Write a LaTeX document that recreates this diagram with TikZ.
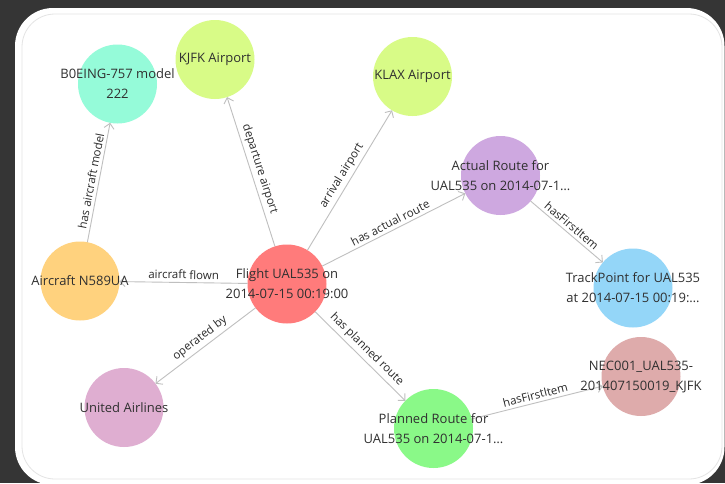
\documentclass[tikz,border=0pt]{standalone}
\usepackage{fontspec}
\setmainfont{Open Sans}
\usetikzlibrary{arrows.meta}

\definecolor{backdrop}{HTML}{353535}
\definecolor{panelline}{HTML}{E4E4E4}
\definecolor{linkgray}{HTML}{BFBFBF}
\definecolor{nodeink}{HTML}{303030}
\definecolor{labelink}{HTML}{2A2A2A}
\definecolor{cTeal}{HTML}{95FBD9}
\definecolor{cLime}{HTML}{D8FB87}
\definecolor{cLilac}{HTML}{CEA8E0}
\definecolor{cSky}{HTML}{94D6F8}
\definecolor{cRed}{HTML}{FF7B7B}
\definecolor{cAmber}{HTML}{FFD27E}
\definecolor{cPink}{HTML}{DFAED1}
\definecolor{cGreen}{HTML}{8AF988}
\definecolor{cRose}{HTML}{DEABAB}

\tikzset{
  bubble/.style={circle, minimum size=79pt, inner sep=0pt, outer sep=0pt, draw=none, fill=#1},
  nodetext/.style={font=\fontsize{13}{20}\selectfont, text=nodeink, align=center, inner sep=0pt},
  link/.style={draw=linkgray, line width=0.9pt,
    -{Straight Barb[length=5pt,width=10pt,line width=0.9pt]}},
  linktext/.style={font=\fontsize{11.5}{13}\selectfont, text=labelink, sloped,
    above=2.5pt, inner sep=0.5pt, midway}
}

\begin{document}
\begin{tikzpicture}[x=1pt,y=-1pt]
\useasboundingbox (0,0) rectangle (725,483);
% window frame
\fill[backdrop] (0,0) rectangle (725,483);
\fill[white, rounded corners=38pt] (15,8) rectangle (724.5,485);
\draw[panelline, line width=0.8pt, rounded corners=33pt] (22,14) rectangle (722,479);

% node discs
\node[bubble=cTeal]  (boeing)   at (117.5,84)  {};
\node[bubble=cLime]  (kjfk)     at (215,59.5)  {};
\node[bubble=cLime]  (klax)     at (412.5,76.5) {};
\node[bubble=cLilac] (actual)   at (500.5,175.5) {};
\node[bubble=cSky]   (track)    at (633,288)   {};
\node[bubble=cRed]   (flight)   at (287,284)   {};
\node[bubble=cAmber] (aircraft) at (80,281)    {};
\node[bubble=cPink]  (united)   at (124,407.5) {};
\node[bubble=cGreen] (planned)  at (433.5,428.5) {};
\node[bubble=cRose]  (nec)      at (641,376.5) {};

% relations
\draw[link] (aircraft) -- (boeing) node[linktext] {has aircraft model};
\draw[link] (flight) -- (kjfk) node[linktext] {departure airport};
\draw[link] (flight) -- (klax) node[linktext] {arrival airport};
\draw[link] (flight) -- (actual) node[linktext] {has actual route};
\draw[link] (actual) -- (track) node[linktext] {hasFirstItem};
\draw[link] (flight) -- (aircraft) node[linktext] {aircraft flown};
\draw[link] (flight) -- (united) node[linktext] {operated by};
\draw[link] (flight) -- (planned) node[linktext] {has planned route};
\draw[link] (planned) -- (nec) node[linktext] {hasFirstItem};

% node captions
\node[nodetext] (boeing-t)   at (boeing)   {B0EING-757 model\\222};
\node[nodetext] (kjfk-t)     at (kjfk)     {KJFK Airport};
\node[nodetext] (klax-t)     at (klax)     {KLAX Airport};
\node[nodetext] (actual-t)   at (actual)   {Actual Route for\\UAL535 on 2014-07-1…};
\node[nodetext] (track-t)    at (track)    {TrackPoint for UAL535\\at 2014-07-15 00:19:…};
\node[nodetext] (flight-t)   at (flight)   {Flight UAL535 on\\2014-07-15 00:19:00};
\node[nodetext] (aircraft-t) at (aircraft) {Aircraft N589UA};
\node[nodetext] (united-t)   at (united)   {United Airlines};
\node[nodetext] (planned-t)  at (planned)  {Planned Route for\\UAL535 on 2014-07-1…};
\node[nodetext] (nec-t)      at (nec)      {NEC001\_UAL535-\\201407150019\_KJFK};
\end{tikzpicture}
\end{document}
